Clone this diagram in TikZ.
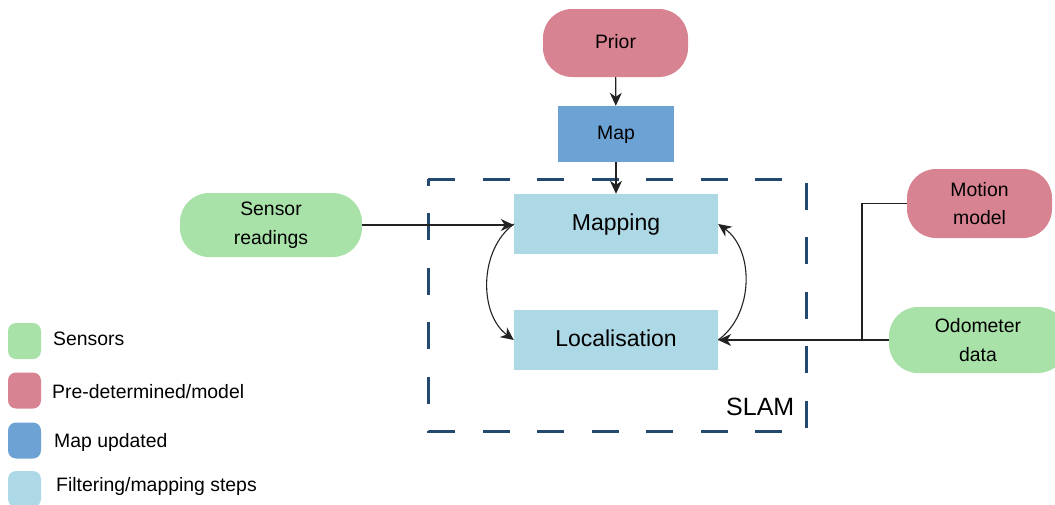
\documentclass[tikz,border=0pt]{standalone}
\usepackage{fontspec}
\setmainfont{Liberation Sans}
\usetikzlibrary{arrows.meta}

\definecolor{sensorgreen}{HTML}{A9E2A9}
\definecolor{modelpink}{HTML}{D88391}
\definecolor{mapblue}{HTML}{6CA3D4}
\definecolor{steplight}{HTML}{ADD8E6}
\definecolor{slamblue}{HTML}{23496E}
\definecolor{linkgrey}{HTML}{222222}

\newcommand{\txtsize}[2]{\fontsize{#1}{#2}\selectfont}

\begin{document}
\begin{tikzpicture}[x=1pt,y=-1pt,
  base/.style={inner sep=0pt, align=center, text=black},
  smallline/.style={text height=15pt, text depth=4.6pt},
  bigline/.style={text height=17.5pt, text depth=5.5pt},
  pill/.style={base, rounded corners=29pt, font=\txtsize{19.4}{28.5}},
  stepbox/.style={base, bigline, fill=steplight, minimum width=204pt,
    minimum height=60pt, font=\txtsize{23}{27}},
  swatch/.style={rounded corners=8pt, minimum width=33pt, minimum height=36pt,
    inner sep=0pt},
  legendtext/.style={anchor=base west, inner sep=0pt, font=\txtsize{19.4}{23}},
  link/.style={draw=linkgrey, line width=1.1pt,
    -{Stealth[length=13pt, width=12pt, inset=4pt]}},
  plain/.style={draw=linkgrey, line width=1.1pt},
]
\useasboundingbox (0,0) rectangle (1055,504);
\clip (0,0) rectangle (1055,504);

% SLAM frame
\draw[slamblue, line width=3pt, dash pattern=on 27pt off 27.5pt]
  (428,179) -- (806,179) -- (806,431) -- (428,431) -- cycle;
\node[anchor=base east, inner sep=0pt, font=\txtsize{25}{30}] (slam) at (794.5,415) {SLAM};

% blocks
\node[pill, smallline, fill=modelpink, minimum width=145pt, minimum height=68pt]
  (prior) at (615.5,43) {Prior};
\node[base, smallline, fill=mapblue, minimum width=116pt, minimum height=56pt,
  font=\txtsize{19.4}{23}] (map) at (616,134) {Map};
\node[stepbox] (mapping) at (616,224) {Mapping};
\node[stepbox] (loc) at (616,340) {Localisation};

\node[pill, fill=sensorgreen, minimum width=182pt, minimum height=64pt]
  (sensor) at (271,225) {Sensor\\readings};
\node[pill, fill=modelpink, minimum width=145pt, minimum height=69pt]
  (motion) at (979.5,203.5) {Motion\\model};
\node[pill, fill=sensorgreen, minimum width=178pt, minimum height=66pt]
  (odo) at (978,340) {Odometer\\data};

% connectors
\draw[link] (prior) -- (map);
\draw[link] (map) -- (mapping);
\draw[link] (sensor.east) -- (sensor.east -| mapping.west);
\draw[link] (mapping.west) .. controls +(-35,26) and +(-35,-26) .. (loc.west);
\draw[link] (loc.east) .. controls +(36,-26) and +(36,26) .. (mapping.east);
\coordinate (junction) at (862,340);
\draw[plain] (motion.west) -| (junction);
\draw[link] (odo.west) -- (loc.east);

% legend
\node[swatch, fill=sensorgreen] (sw1) at (24.5,341) {};
\node[swatch, fill=modelpink] (sw2) at (24.5,390.5) {};
\node[swatch, fill=mapblue] (sw3) at (24.5,440.5) {};
\node[swatch, fill=steplight] (sw4) at (24.5,489) {};
\node[legendtext] (lt1) at (53,345) {Sensors};
\node[legendtext] (lt2) at (52,398.3) {Pre-determined/model};
\node[legendtext] (lt3) at (54,447.3) {Map updated};
\node[legendtext] (lt4) at (56,491.7) {Filtering/mapping steps};
\end{tikzpicture}
\end{document}
